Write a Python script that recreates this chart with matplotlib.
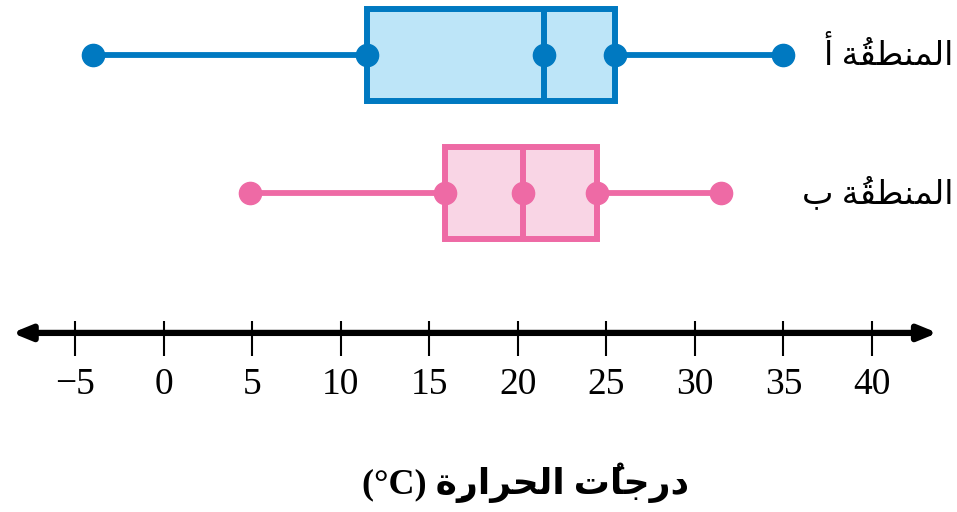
import matplotlib
matplotlib.use('Agg')
from matplotlib import pyplot as plt

# arabic text is written in visual order with presentation forms (matplotlib does no shaping)
word = '\uFE94\u064F\uFED8\uFEC4\uFEE8\uFEE4\uFEDF\uFE8D'  # المنطقةُ
region_labels = ['\uFE83 ' + word, '\uFE8F ' + word]      # المنطقةُ أ / المنطقةُ ب
title = '(°C) ' + '\uFE93\u0650\uFEAD\uFE8D\uFEAE\uFEA4\uFEDF\uFE8D' + ' ' + '\uFE95\u064F\uFE8E\uFE9F\uFEAD\uFEA9'

mins = [-4, 4.9]
q1s = [11.5, 15.9]
medians = [21.5, 20.3]
q3s = [25.5, 24.5]
maxs = [35, 31.5]
edge_colors = ['#0079c1', '#ee6aa5']
fill_colors = ['#bde5f8', '#f9d5e5']
ticks = [-5, 0, 5, 10, 15, 20, 25, 30, 35, 40]

fonts = ['Liberation Serif', 'DejaVu Sans']

fig = plt.figure(figsize=(9.57, 5.12), dpi=100)
ax = fig.add_axes([0, 0, 1, 1])

stats = []
for i in range(2):
    stats.append(dict(med=medians[i], q1=q1s[i], q3=q3s[i],
                      whislo=mins[i], whishi=maxs[i], fliers=[]))
art = ax.bxp(stats, positions=[0, 1], widths=0.67, orientation='horizontal',
             patch_artist=True, showcaps=False, showfliers=False, manage_ticks=False)
for i in range(2):
    art['boxes'][i].set(facecolor=fill_colors[i], edgecolor=edge_colors[i], linewidth=4.3)
    art['medians'][i].set(color=edge_colors[i], linewidth=4.3)
    for w in art['whiskers'][2*i:2*i+2]:
        w.set(color=edge_colors[i], linewidth=4.2)
    vals = [mins[i], q1s[i], medians[i], q3s[i], maxs[i]]
    ax.plot(vals, [i]*5, 'o', color=edge_colors[i], markersize=16, zorder=5, linestyle='none')
    ax.text(44.6, i, region_labels[i], ha='right', va='center', fontsize=24, family=fonts)

# number line
yline = 2.014
ax.annotate('', xy=(43.7, yline), xytext=(-8.55, yline),
            arrowprops=dict(arrowstyle='<|-|>,head_length=1.1,head_width=0.45',
                            color='black', lw=4.5, shrinkA=0, shrinkB=0))
ax.vlines(ticks, 1.928, 2.181, color='black', linewidth=1.5)
for t in ticks:
    ax.text(t, 2.39, str(t).replace('-', '\u2212'), ha='center', va='center',
            fontsize=27, family=fonts)

ax.set_xlim(-9.235, 44.8)
ax.set_ylim(3.312, -0.399)
ax.set_axis_off()

fig.text(0.549, 1 - 483/512, title, ha='center', va='center', fontsize=26,
         fontweight='bold', family=fonts)

fig.savefig('out.png', dpi=100)
